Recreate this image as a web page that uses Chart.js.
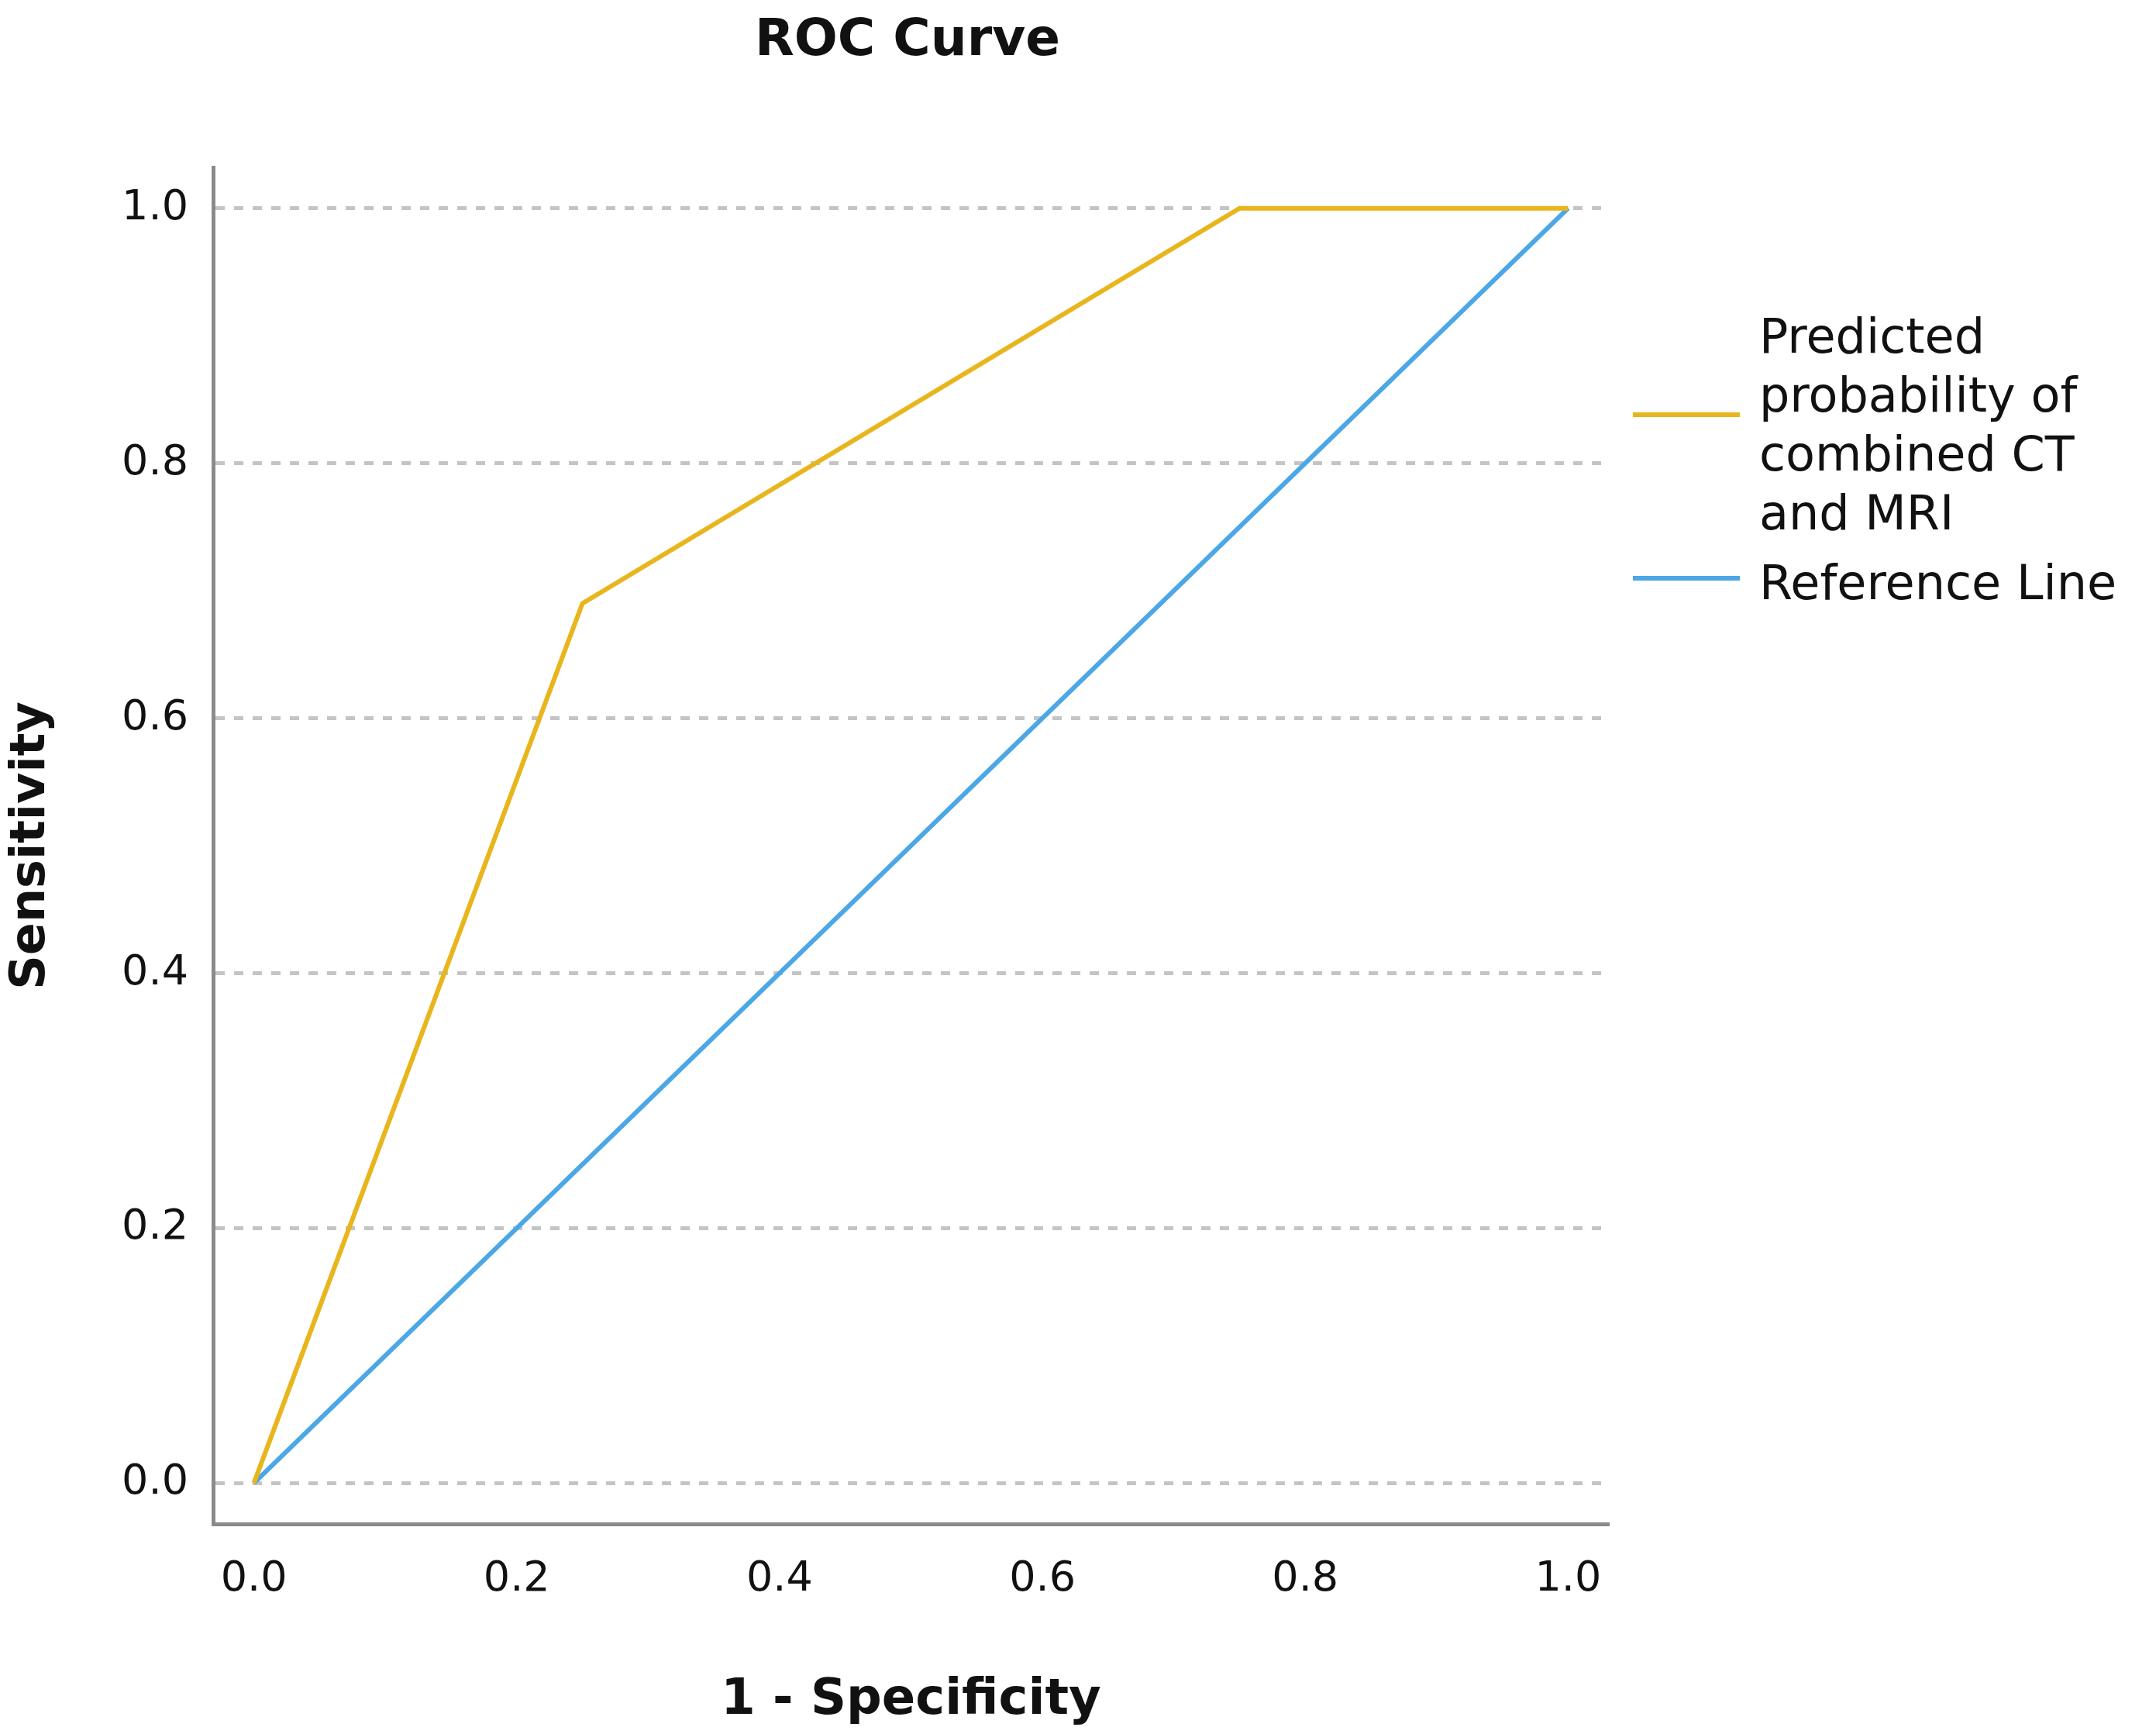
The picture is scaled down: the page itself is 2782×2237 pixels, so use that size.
<!DOCTYPE html>
<html><head><meta charset="utf-8">
<script src="https://cdn.jsdelivr.net/npm/chart.js@4"></script>
<style>
html,body{margin:0;padding:0;background:#fff;}
#wrap{position:relative;width:2782px;height:2237px;}
.t{position:absolute;font-family:"DejaVu Sans",sans-serif;color:#111;}
</style></head><body>
<div id="wrap">
<canvas id="c" width="2782" height="2237"></canvas>
<div class="t" style="left:0;width:2342px;top:10px;text-align:center;font-weight:bold;font-size:66px;">ROC Curve</div>
<div style="position:absolute;left:2107px;top:532px;width:138px;height:6px;background:#E8B51C"></div>
<div class="t" style="left:2270px;top:396px;font-size:62px;line-height:76px;">Predicted<br>probability of<br>combined CT<br>and MRI</div>
<div style="position:absolute;left:2107px;top:743px;width:138px;height:6px;background:#4BA7E6"></div>
<div class="t" style="left:2270px;top:714px;font-size:62px;line-height:76px;">Reference Line</div>
</div>
<script>
const rocX = [0, 0.25, 0.75, 1.0];
const rocY = [0, 0.69, 1.0, 1.0];
const refX = [0, 1];
const refY = [0, 1];
const tickValues = [0, 0.2, 0.4, 0.6, 0.8, 1.0];
const seriesNames = ["Predicted probability of combined CT and MRI", "Reference Line"];

const toPts = (xs, ys) => xs.map((x, i) => ({x, y: ys[i]}));
const fixTicks = s => { s.ticks = tickValues.map(v => ({value: v})); };
new Chart(document.getElementById('c'), {
  type: 'line',
  data: { datasets: [
    {label: seriesNames[0], data: toPts(rocX, rocY), borderColor: '#E8B51C', borderWidth: 6, pointRadius: 0, tension: 0},
    {label: seriesNames[1], data: toPts(refX, refY), borderColor: '#4BA7E6', borderWidth: 6, pointRadius: 0, tension: 0}
  ]},
  options: {
    responsive: false, animation: false, devicePixelRatio: 1,
    layout: {padding: {top: 216, right: 706, left: 0, bottom: 0}},
    plugins: {legend: {display: false}, tooltip: {enabled: false}},
    scales: {
      x: {type: 'linear', min: -0.031, max: 1.031, afterBuildTicks: fixTicks,
        afterFit: s => { s.height = 271; },
        grid: {display: false, drawTicks: false},
        border: {display: true, color: '#8a8a8a', width: 5},
        ticks: {padding: 40, color: '#111', font: {family: 'DejaVu Sans', size: 54}, callback: v => v.toFixed(1)},
        title: {display: true, text: '1 - Specificity', color: '#111', font: {family: 'DejaVu Sans', size: 64, weight: 'bold'}, padding: {top: 22}}
      },
      y: {type: 'linear', min: -0.032, max: 1.032, afterBuildTicks: fixTicks,
        afterFit: s => { s.width = 275; },
        grid: {display: true, drawTicks: false, color: '#c4c4c4', lineWidth: 5},
        border: {display: true, color: '#8a8a8a', width: 5, dash: [12, 12]},
        ticks: {padding: 32, color: '#111', font: {family: 'DejaVu Sans', size: 54}, callback: v => v.toFixed(1)},
        title: {display: true, text: 'Sensitivity', color: '#111', font: {family: 'DejaVu Sans', size: 62, weight: 'bold'}, padding: {bottom: 10}}
      }
    }
  }
});
</script>
</body></html>
